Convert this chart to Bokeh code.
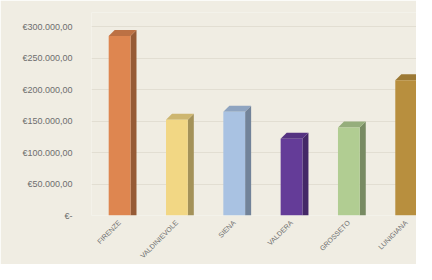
from bokeh.plotting import figure
from bokeh.models import FixedTicker, ColumnDataSource, Range1d
from bokeh.embed import file_html
from bokeh.resources import INLINE
import math

categories = ["FIRENZE", "VALDINIEVOLE", "SIENA", "VALDERA", "GROSSETO", "LUNIGIANA"]
values = [285000, 152000, 165000, 122000, 140000, 215000]
colors = ["#DE8650", "#F2D784", "#A9C2E2", "#643C98", "#B1CD92", "#B88F3E"]
y_ticks = [0, 50000, 100000, 150000, 200000, 250000, 300000]
y_tick_labels = ["€-", "€50.000,00", "€100.000,00", "€150.000,00", "€200.000,00", "€250.000,00", "€300.000,00"]

def shade(hexc, f):
    r, g, b = int(hexc[1:3], 16), int(hexc[3:5], 16), int(hexc[5:7], 16)
    return "#%02x%02x%02x" % (int(r * f), int(g * f), int(b * f))

BG = "#F0EDE3"
p = figure(width=416, height=264, output_backend="svg", toolbar_location=None,
           x_range=Range1d(-0.49, 5.18), y_range=Range1d(0, 322500),
           min_border_left=91, min_border_right=0, min_border_top=12, min_border_bottom=0,
           background_fill_color=BG, border_fill_color=BG)
p.outline_line_color = None

xs = list(range(len(categories)))
hw = 0.19
dx = 0.105
dy = 9500

side_x, side_y, top_x, top_y, side_c, top_c = [], [], [], [], [], []
for x, v, c in zip(xs, values, colors):
    side_x.append([x + hw, x + hw + dx, x + hw + dx, x + hw])
    side_y.append([0, 0, v + dy, v])
    top_x.append([x - hw, x - hw + dx, x + hw + dx, x + hw])
    top_y.append([v, v + dy, v + dy, v])
    side_c.append(shade(c, 0.68))
    top_c.append(shade(c, 0.85))

p.patches(side_x, side_y, fill_color=side_c, line_color=None)
p.patches(top_x, top_y, fill_color=top_c, line_color=None)
src = ColumnDataSource(dict(x=xs, top=values, color=colors))
p.vbar(x="x", top="top", width=2 * hw, bottom=0, fill_color="color", line_color=None, source=src)

p.xaxis.ticker = FixedTicker(ticks=xs)
p.xaxis.major_label_overrides = {i: c for i, c in enumerate(categories)}
p.xaxis.major_label_orientation = math.pi / 4
p.yaxis.ticker = FixedTicker(ticks=y_ticks)
p.yaxis.major_label_overrides = {t: l for t, l in zip(y_ticks, y_tick_labels)}

for ax in (p.xaxis, p.yaxis):
    ax.axis_line_color = None
    ax.major_tick_line_color = None
    ax.minor_tick_line_color = None
    ax.major_label_text_font = "Liberation Sans"
    ax.major_label_text_color = "#6E6E6E"
p.xaxis.major_label_text_font_size = "7px"
p.yaxis.major_label_text_font_size = "9px"
p.yaxis.major_label_standoff = 13
p.xaxis.major_label_standoff = 0

p.xgrid.grid_line_color = None
p.ygrid.ticker = FixedTicker(ticks=y_ticks)
p.ygrid.grid_line_color = "#E2DED2"
p.ygrid.grid_line_width = 1

open("out.html", "w").write(file_html(p, INLINE))
